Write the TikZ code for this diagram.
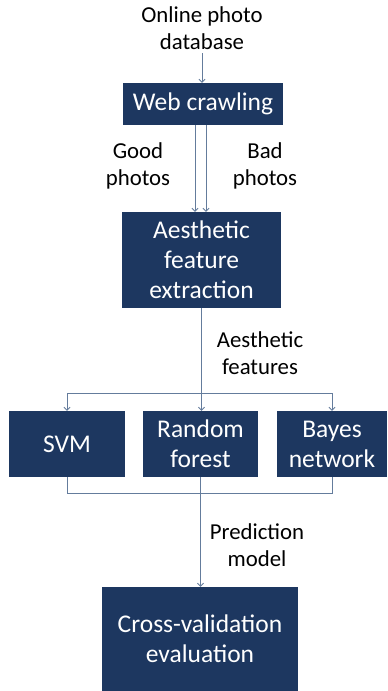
\documentclass[tikz,border=0pt]{standalone}
\usepackage{fontspec}
\setmainfont{Carlito}
\usetikzlibrary{arrows.meta}
\definecolor{boxblue}{RGB}{29,55,96}
\definecolor{linkgray}{RGB}{100,124,156}

\begin{document}
\begin{tikzpicture}[x=1pt,y=-1pt,
  block/.style={fill=boxblue,text=white,align=center,inner sep=0pt,font=\fontsize{25.5}{30}\selectfont},
  lbl/.style={align=center,font=\fontsize{22.8}{27}\selectfont},
  line/.style={linkgray,line width=0.9pt},
  link/.style={line,-{Straight Barb[length=3pt,width=6pt]}}]
\useasboundingbox (0,0) rectangle (388,691);
\node[lbl] (db) at (202,28) {Online photo\\database};
\node[block,minimum width=160,minimum height=42] (crawl) at (203,104) {Web crawling};
\node[block,minimum width=159,minimum height=96] (extract) at (201.5,260) {Aesthetic\\feature\\extraction};
\node[block,minimum width=116,minimum height=66] (svm) at (67,444) {SVM};
\node[block,minimum width=115,minimum height=66] (forest) at (200.5,444) {Random\\forest};
\node[block,minimum width=110,minimum height=66] (bayes) at (332,444) {Bayes\\network};
\node[block,minimum width=196,minimum height=104] (cv) at (200,639) {Cross-validation\\evaluation};
\node[lbl] (good) at (138,166) {Good\\photos};
\node[lbl] (bad) at (265,166) {Bad\\photos};
\node[lbl] (feat) at (260,353) {Aesthetic\\features};
\node[lbl] (pred) at (257,545) {Prediction\\model};
\coordinate (split) at (201.5,393);
\coordinate (join) at (200.5,493);
\draw[link] (db.south) -- (db.south |- crawl.north);
\draw[link] ([xshift=-8pt]crawl.south) -- ([xshift=-6.5pt]extract.north);
\draw[link] ([xshift=3pt]crawl.south) -- ([xshift=4.5pt]extract.north);
\draw[link] (extract.south) -- (extract.south |- forest.north);
\draw[link] (split) -| (svm.north);
\draw[link] (split) -| (bayes.north);
\draw[line] (svm.south) |- (join);
\draw[line] (bayes.south) |- (join);
\draw[line] (forest.south) -- (join);
\draw[link] (join) -- (join |- cv.north);
\end{tikzpicture}
\end{document}
